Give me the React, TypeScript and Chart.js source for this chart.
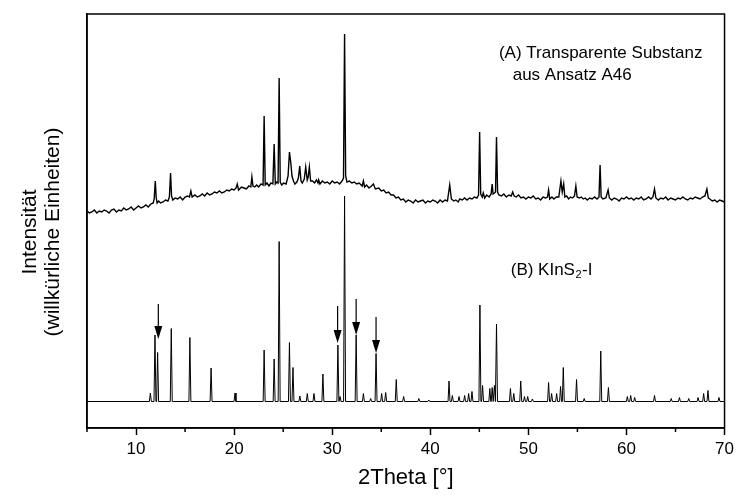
import React, { useEffect, useRef } from "react";
import { Chart, registerables } from "chart.js";

Chart.register(...registerables);

// ---------- axis ----------
const X_MIN = 5;
const X_MAX = 70;
const Y_MIN = 0;
const Y_MAX = 414;
const majorTicks = [10, 20, 30, 40, 50, 60, 70];
const minorTicks = [5, 15, 25, 35, 45, 55, 65];
const xTitle = "2Theta [°]";
const yTitleLines = ["Intensität", "(willkürliche Einheiten)"];

// ---------- trace A: measured pattern (2θ, intensity incl. offset) ----------
const traceA: [number, number][] = [
  [5.0, 217], [5.25, 215], [5.5, 216], [5.75, 218], [6.0, 215], [6.25, 217], [6.5, 216], [6.75, 218],
  [7.0, 217], [7.25, 215], [7.5, 218], [7.75, 219], [8.0, 216], [8.25, 218], [8.5, 217], [8.75, 220],
  [9.0, 218], [9.25, 219], [9.5, 221], [9.75, 218], [10.0, 220], [10.25, 222], [10.5, 220], [10.75, 221],
  [11.0, 223], [11.25, 221], [11.5, 224], [11.75, 225], [11.85, 229], [11.96, 247], [12.06, 230], [12.15, 225],
  [12.3, 227], [12.5, 225], [12.75, 226], [13.0, 228], [13.25, 227], [13.4, 231], [13.52, 255], [13.62, 232],
  [13.75, 228], [14.0, 230], [14.25, 229], [14.5, 231], [14.75, 228], [15.0, 231], [15.25, 232], [15.45, 231],
  [15.59, 237], [15.72, 231], [16.0, 233], [16.25, 231], [16.5, 232], [16.75, 234], [17.0, 232], [17.25, 235],
  [17.5, 233], [17.75, 234], [18.0, 236], [18.25, 235], [18.5, 237], [18.75, 235], [19.0, 236], [19.25, 238],
  [19.5, 237], [19.75, 239], [20.0, 238], [20.2, 240], [20.32, 244], [20.45, 238], [20.75, 241], [21.0, 240],
  [21.25, 239], [21.5, 242], [21.7, 241], [21.81, 251], [21.92, 242], [22.1, 241], [22.3, 243], [22.5, 241],
  [22.75, 244], [22.95, 243], [23.06, 312], [23.17, 243], [23.35, 245], [23.55, 242], [23.75, 245], [23.95, 244],
  [24.08, 284], [24.2, 244], [24.35, 246], [24.48, 245], [24.59, 350], [24.7, 246], [24.85, 243], [25.05, 245],
  [25.3, 244], [25.5, 252], [25.64, 276], [25.78, 265], [25.9, 252], [26.05, 247], [26.2, 244], [26.4, 246],
  [26.55, 250], [26.69, 262], [26.82, 247], [26.95, 245], [27.15, 249], [27.3, 261], [27.45, 248], [27.55, 251],
  [27.67, 261], [27.8, 247], [28.0, 247], [28.2, 245], [28.4, 248], [28.55, 245], [28.62, 248], [28.75, 244],
  [29.0, 247], [29.25, 245], [29.5, 246], [29.75, 244], [30.0, 247], [30.25, 245], [30.5, 246], [30.75, 244],
  [31.0, 247], [31.15, 250], [31.26, 394], [31.37, 252], [31.5, 246], [31.75, 247], [32.0, 245], [32.25, 246],
  [32.5, 244], [32.75, 245], [33.05, 242], [33.18, 247], [33.3, 241], [33.5, 243], [33.75, 240], [34.0, 242],
  [34.2, 244], [34.4, 239], [34.75, 240], [35.0, 237], [35.25, 238], [35.5, 235], [35.75, 236], [36.0, 233],
  [36.25, 233], [36.5, 230], [36.75, 231], [37.0, 228], [37.25, 229], [37.5, 226], [37.75, 228], [38.0, 227],
  [38.25, 225], [38.5, 228], [38.75, 226], [39.0, 227], [39.25, 228], [39.5, 225], [39.75, 227], [40.0, 226],
  [40.25, 228], [40.5, 227], [40.75, 225], [41.0, 228], [41.25, 226], [41.5, 228], [41.75, 227], [41.98, 243],
  [42.15, 229], [42.4, 227], [42.6, 228], [42.85, 226], [43.0, 229], [43.25, 228], [43.5, 230], [43.75, 228],
  [44.0, 230], [44.25, 229], [44.5, 231], [44.75, 230], [44.92, 233], [45.03, 296], [45.14, 234], [45.3, 231],
  [45.4, 235], [45.55, 230], [45.75, 233], [46.0, 231], [46.2, 234], [46.31, 244], [46.4, 234], [46.55, 235],
  [46.65, 236], [46.75, 291], [46.86, 236], [47.0, 233], [47.25, 232], [47.5, 234], [47.75, 231], [48.0, 233],
  [48.25, 232], [48.4, 236], [48.55, 232], [48.75, 231], [49.0, 233], [49.25, 230], [49.5, 231], [49.75, 229],
  [50.0, 231], [50.25, 230], [50.5, 232], [50.75, 229], [51.0, 230], [51.25, 228], [51.5, 231], [51.75, 230],
  [51.95, 231], [52.06, 238], [52.18, 229], [52.4, 231], [52.6, 229], [52.85, 231], [53.1, 231], [53.32, 247],
  [53.45, 236], [53.6, 244], [53.72, 231], [53.9, 232], [54.1, 229], [54.3, 231], [54.5, 230], [54.7, 232],
  [54.84, 242], [54.97, 231], [55.2, 230], [55.4, 231], [55.6, 229], [55.8, 230], [56.0, 228], [56.25, 230],
  [56.5, 229], [56.75, 231], [57.0, 229], [57.2, 231], [57.31, 263], [57.42, 231], [57.6, 229], [57.9, 230],
  [58.13, 238], [58.26, 230], [58.5, 228], [58.75, 230], [59.0, 229], [59.25, 227], [59.5, 230], [59.75, 229],
  [60.0, 231], [60.25, 229], [60.5, 230], [60.75, 228], [61.0, 230], [61.25, 229], [61.5, 231], [61.75, 228],
  [62.0, 229], [62.25, 231], [62.5, 229], [62.7, 231], [62.86, 239], [63.0, 230], [63.25, 228], [63.5, 230],
  [63.75, 229], [64.0, 231], [64.25, 228], [64.5, 230], [64.75, 229], [65.0, 228], [65.25, 230], [65.5, 229],
  [65.75, 231], [66.0, 229], [66.25, 228], [66.5, 230], [66.75, 229], [67.0, 231], [67.25, 230], [67.5, 229],
  [67.75, 231], [68.0, 232], [68.2, 239], [68.35, 230], [68.5, 229], [68.75, 227], [69.0, 228], [69.25, 226],
  [69.5, 228], [69.75, 227], [70.0, 226],
];

// ---------- trace B: calculated KInS2-I pattern ----------
const baselineB = 26.5;
const peakPosB = [
  11.46, 11.93, 12.2, 13.59, 15.49, 17.65, 20.09, 23.06, 24.08, 24.59, 25.64, 26.0, 26.7, 27.46, 28.14,
  29.05, 30.58, 30.8, 31.26, 32.44, 33.18, 33.92, 34.47, 35.04, 35.45, 36.53, 37.28, 38.83, 39.85, 41.91,
  42.25, 42.93, 43.5, 43.91, 44.25, 45.06, 45.33, 46.07, 46.31, 46.54, 46.75, 48.17, 48.51, 49.22, 49.6,
  49.93, 50.41, 52.06, 52.37, 52.88, 53.28, 53.56, 54.91, 55.69, 57.38, 58.16, 60.09, 60.43, 60.84, 62.86,
  64.56, 65.4, 66.35, 67.3, 67.87, 68.31, 69.43,
];
const peakHeightB = [
  8.5, 66.5, 49, 73, 64, 33.5, 8.5, 51.5, 42.5, 160, 59, 34, 5.5, 8, 8,
  27.5, 56.5, 5, 205.5, 66.5, 8, 3, 48, 8, 9, 22, 5, 3, 1.5, 20.5,
  6, 5, 6, 8, 10, 96.5, 16, 13, 14, 16, 77.5, 13, 8, 20.5, 5,
  5, 2.5, 19, 8, 8, 15, 34, 22, 3, 50.5, 14, 5, 6, 4, 6,
  3, 4, 3, 4, 8, 11, 4,
];

// ---------- arrows marking extra reflections ----------
const arrowX = [12.27, 30.55, 32.44, 34.47];
const arrowTail = [124, 122, 129, 111];
const arrowTip = [89, 85, 93, 75];

// ---------- labels ----------
const labelA = ["(A) Transparente Substanz", "aus Ansatz A46"];
const labelB = { pre: "(B) KInS", sub: "2", post: "-I" };

const PEAK_HALF_WIDTH = 0.1;
const FONT = "'Liberation Sans', Arial, Helvetica, sans-serif";

function buildTraceB() {
  const pts: { x: number; y: number }[] = [{ x: X_MIN, y: baselineB }];
  peakPosB.forEach((p, i) => {
    pts.push({ x: p - PEAK_HALF_WIDTH, y: baselineB });
    pts.push({ x: p, y: baselineB + peakHeightB[i] });
    pts.push({ x: p + PEAK_HALF_WIDTH, y: baselineB });
  });
  pts.push({ x: X_MAX, y: baselineB });
  pts.sort((a, b) => a.x - b.x);
  return pts;
}

const decorPlugin = {
  id: "decor",
  afterDatasetsDraw(chart: any) {
    const { ctx, scales } = chart;
    const x = scales.x;
    const y = scales.y;
    ctx.save();
    ctx.strokeStyle = "#000";
    ctx.fillStyle = "#000";
    ctx.lineWidth = 1.2;
    arrowX.forEach((ax, i) => {
      const px = x.getPixelForValue(ax);
      const tail = y.getPixelForValue(arrowTail[i]);
      const tip = y.getPixelForValue(arrowTip[i]);
      ctx.beginPath();
      ctx.moveTo(px, tail);
      ctx.lineTo(px, tip - 10);
      ctx.stroke();
      ctx.beginPath();
      ctx.moveTo(px - 4, tip - 13);
      ctx.lineTo(px + 4, tip - 13);
      ctx.lineTo(px, tip);
      ctx.closePath();
      ctx.fill();
    });

    // labels
    ctx.font = `17px ${FONT}`;
    ctx.textAlign = "left";
    ctx.textBaseline = "middle";
    ctx.fillText(labelA[0], x.getPixelForValue(47.0), y.getPixelForValue(375));
    ctx.fillText(labelA[1], x.getPixelForValue(48.4), y.getPixelForValue(353));

    const bx = x.getPixelForValue(48.2);
    const by = y.getPixelForValue(158);
    ctx.fillText(labelB.pre, bx, by);
    const w1 = ctx.measureText(labelB.pre).width;
    ctx.font = `11px ${FONT}`;
    ctx.fillText(labelB.sub, bx + w1 + 0.5, by + 5);
    const w2 = ctx.measureText(labelB.sub).width;
    ctx.font = `17px ${FONT}`;
    ctx.fillText(labelB.post, bx + w1 + w2 + 1, by);
    ctx.restore();
  },
  afterDraw(chart: any) {
    const { ctx, chartArea: ca, scales } = chart;
    const x = scales.x;
    ctx.save();
    ctx.strokeStyle = "#000";
    ctx.lineWidth = 1.5;
    ctx.strokeRect(ca.left, ca.top, ca.right - ca.left, ca.bottom - ca.top);
    // minor ticks
    minorTicks.forEach((v) => {
      const px = x.getPixelForValue(v);
      ctx.beginPath();
      ctx.moveTo(px, ca.bottom);
      ctx.lineTo(px, ca.bottom + 4);
      ctx.stroke();
    });
    // axis titles
    ctx.fillStyle = "#000";
    ctx.textAlign = "center";
    ctx.textBaseline = "middle";
    ctx.font = `22px ${FONT}`;
    ctx.fillText(xTitle, (ca.left + ca.right) / 2, 478);
    ctx.font = `21px ${FONT}`;
    const cy = 232;
    ctx.save();
    ctx.translate(30, cy);
    ctx.rotate(-Math.PI / 2);
    ctx.fillText(yTitleLines[0], 0, 0);
    ctx.restore();
    ctx.save();
    ctx.translate(53, cy);
    ctx.rotate(-Math.PI / 2);
    ctx.fillText(yTitleLines[1], 0, 0);
    ctx.restore();
    ctx.restore();
  },
};

export default function App() {
  const canvasRef = useRef<HTMLCanvasElement | null>(null);

  useEffect(() => {
    if (!canvasRef.current) return;
    const chart = new Chart(canvasRef.current, {
      type: "line",
      data: {
        datasets: [
          {
            label: "A",
            data: traceA.map(([px, py]) => ({ x: px, y: py })),
            borderColor: "#000",
            borderWidth: 1.4,
            pointRadius: 0,
            tension: 0,
            fill: false,
          },
          {
            label: "B",
            data: buildTraceB(),
            borderColor: "#000",
            borderWidth: 1,
            pointRadius: 0,
            tension: 0,
            fill: false,
          },
        ],
      },
      options: {
        animation: false,
        responsive: false,
        maintainAspectRatio: false,
        layout: { padding: { top: 14, right: 10, left: 0, bottom: 0 } },
        plugins: { legend: { display: false }, tooltip: { enabled: false } },
        scales: {
          x: {
            type: "linear",
            min: X_MIN,
            max: X_MAX,
            afterFit: (s: any) => {
              s.height = 67;
            },
            afterBuildTicks: (s: any) => {
              s.ticks = majorTicks.map((v) => ({ value: v }));
            },
            ticks: {
              callback: (v: any) => String(v),
              color: "#000",
              font: { family: FONT, size: 17 },
              padding: 4,
              maxRotation: 0,
              autoSkip: false,
            },
            grid: {
              drawOnChartArea: false,
              drawTicks: true,
              tickLength: 7,
              tickWidth: 1.5,
              tickColor: "#000",
            },
            border: { display: true, color: "#000", width: 1.5 },
          },
          y: {
            type: "linear",
            min: Y_MIN,
            max: Y_MAX,
            afterFit: (s: any) => {
              s.width = 87;
            },
            ticks: { display: false },
            grid: { display: false, drawTicks: false },
            border: { display: true, color: "#000", width: 1.5 },
          },
        },
      },
      plugins: [decorPlugin],
    });
    return () => chart.destroy();
  }, []);

  return (
    <div style={{ position: "absolute", left: 0, top: 0, width: 738, height: 495, background: "#fff" }}>
      <canvas ref={canvasRef} width={738} height={495} style={{ width: 738, height: 495 }} />
    </div>
  );
}
